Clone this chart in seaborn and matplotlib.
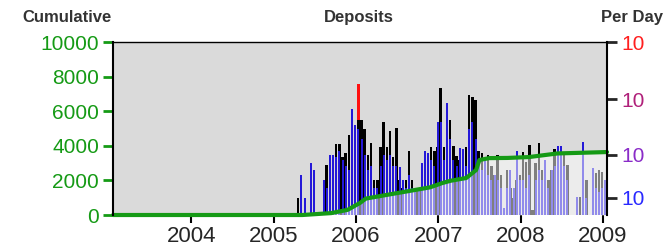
import numpy as np
import matplotlib
matplotlib.use("Agg")
import matplotlib.pyplot as plt
import seaborn as sns

# per-day deposits, two-week bins starting mid 2005
bin_start = 2005.28
bin_width = 1 / 26
black_vals = [1.0, 0, 0, 0, 0, 0, 0, 0, 0, 6.4,
              5.0, 6.0, 16, 16, 9, 10.9, 23, 20, 23, 43,
              43, 30, 10, 16.7, 3, 3, 14, 40, 14, 28,
              9, 31, 3, 2, 3, 12, 3, 2, 2, 2,
              4, 9, 14, 12, 14, 157, 14, 80, 43, 15,
              9.5, 8, 13, 14, 119, 110, 98, 12, 10.8, 8,
              10, 6, 3.9, 10, 4, 0.3, 5, 2, 1, 3,
              4, 11.5, 7.3, 15.2, 0.2, 6.9, 16.7, 5, 4, 3,
              5, 13, 6, 8, 11, 6.4, 0, 0, 0, 1.05,
              0, 3, 0, 0, 4.3, 5, 4.5, 3]
blue_vals = [0, 3.9, 1.0, 0, 6.9, 5.0, 0, 0, 3.0, 2.0,
             10, 10, 9, 12, 7.9, 6, 5, 67, 35, 30,
             20, 10, 5, 6, 2, 2, 6, 10, 8, 10,
             6, 6, 5.8, 3, 2, 4, 2, 1.5, 2, 6.9,
             12, 11, 8, 6, 40, 40, 8, 86, 20, 8,
             6, 13.5, 13, 6, 30, 40, 20, 8, 5, 8,
             4, 3, 3.9, 3, 2, 0.3, 2, 5, 2, 12,
             3, 3, 2, 4, 0, 3, 5, 3, 8, 2,
             5, 6, 15, 15, 6, 3, 0, 0, 1.05, 0,
             17.4, 1, 0, 5.5, 2, 1.5, 2, 3]
red_bin = 19
red_val = 186

# cumulative deposits
cum_years = [2003.05, 2005.35, 2005.7, 2005.9, 2006.05, 2006.12, 2006.3, 2006.6,
             2006.9, 2007.05, 2007.15, 2007.34, 2007.46, 2007.5, 2007.62, 2007.84,
             2008.1, 2008.45, 2009.05]
cum_vals = [0, 0, 110, 300, 700, 950, 1100, 1350,
            1600, 1850, 1980, 2140, 2600, 3180, 3290, 3300,
            3350, 3560, 3640]

year_ticks = [2004, 2005, 2006, 2007, 2008, 2009]
cum_ticks = [0, 2000, 4000, 6000, 8000, 10000]
day_ticks = [1, 10, 100, 1000]
day_labels = ["10", "10", "10", "10"]
day_colors = ["#2a2aff", "#8a2cc8", "#b0207a", "#ff2020"]

sns.set_style("white")
plt.rcParams['font.family'] = ['Liberation Sans', 'DejaVu Sans']

green = "#159a15"
fig = plt.figure(figsize=(6.7, 2.46), dpi=100)
ax = fig.add_axes([0.1687, 0.126, 0.7373, 0.703])
ax.set_facecolor("#dadada")

# per-day axis: log10(x+1) scale
ax.set_yscale("function", functions=(lambda v: np.log10(np.clip(v, 0, None) + 1),
                                     lambda v: 10 ** v - 1))
x = bin_start + np.arange(len(black_vals)) * bin_width + bin_width / 2
w = bin_width * 0.8
ax.bar(x[red_bin], red_val, width=w, color="#ff1010", lw=0)
ax.bar(x, black_vals, width=w, color="black", lw=0)
ax.bar(x, blue_vals, width=w * 0.8, color="#2418d8", lw=0)
ax.set_ylim(0, 1000)
ax.set_xlim(2003.05, 2009.05)
ax.set_xticks(year_ticks)
ax.set_xticklabels([str(y) for y in year_ticks])
ax.tick_params(axis="x", bottom=True, length=6, width=1.5, color="black", labelsize=16, pad=2)
for s in ax.spines.values():
    s.set_visible(False)

# cumulative axis on top, labels on the left
ax2 = ax.twinx()
ax2.fill_between(cum_years, cum_vals, 0, color="white", alpha=0.5, lw=0)
sns.lineplot(x=cum_years, y=cum_vals, ax=ax2, color=green, lw=3, clip_on=False)
ax2.set_ylim(0, 10000)
ax2.set_xlim(2003.05, 2009.05)
ax2.yaxis.tick_left()
ax2.set_yticks(cum_ticks)
ax2.tick_params(axis="y", left=True, right=False, labelleft=True, labelright=False,
                length=7, width=2, color=green, labelcolor=green, labelsize=15, pad=3)
for name in ["left", "right", "top"]:
    ax2.spines[name].set_visible(True)
    ax2.spines[name].set_color("black")
ax2.spines["left"].set_linewidth(1.5)
ax2.spines["right"].set_linewidth(1.5)
ax2.spines["top"].set_linewidth(1.0)
ax2.spines["bottom"].set_visible(False)

# per-day ticks go on the right (after twinx, which moves them left)
ax.yaxis.tick_right()
ax.yaxis.set_minor_locator(matplotlib.ticker.NullLocator())
ax.set_yticks(day_ticks)
ax.set_yticklabels(day_labels)
ax.tick_params(axis="y", left=False, right=True, labelleft=False, labelright=True,
               length=7, width=2, pad=3, labelsize=15)
for t, c in zip(ax.yaxis.get_major_ticks(), day_colors):
    t.tick2line.set_color(c)
    t.label2.set_color(c)

fig.text(0.034, 0.93, "Cumulative", fontsize=12, fontweight="bold", color="#333333", va="center")
fig.text(0.536, 0.93, "Deposits", fontsize=12, fontweight="bold", color="#333333", va="center", ha="center")
fig.text(0.99, 0.93, "Per Day", fontsize=12, fontweight="bold", color="#333333", va="center", ha="right")

fig.savefig("out.png", dpi=100)
